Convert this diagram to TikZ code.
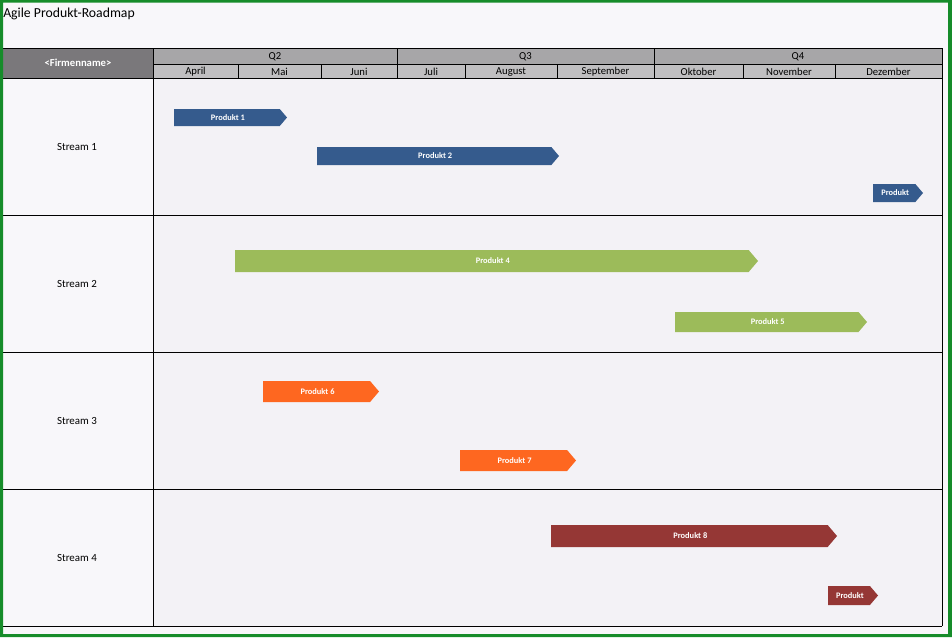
\documentclass[tikz,border=0pt]{standalone}
\usepackage{fontspec}
\setmainfont{Carlito}
\definecolor{pagebg}{RGB}{248,247,250}
\definecolor{chartbg}{RGB}{243,242,246}
\definecolor{frameg}{RGB}{22,140,42}
\definecolor{firmg}{RGB}{122,120,123}
\definecolor{quartg}{RGB}{167,166,168}
\definecolor{monthg}{RGB}{192,191,193}
\definecolor{pblue}{RGB}{53,91,141}
\definecolor{pgreen}{RGB}{156,187,90}
\definecolor{porange}{RGB}{254,103,32}
\definecolor{pred}{RGB}{149,55,53}
\tikzset{
  hdr/.style={font=\fontsize{8}{9}\selectfont, text=black, inner sep=0pt},
  streamlbl/.style={font=\fontsize{8.2}{9}\selectfont, text=black, inner sep=0pt},
  prodlbl/.style={font=\bfseries\fontsize{6.3}{7}\selectfont, text=white, inner sep=0pt},
  grid/.style={line width=0.75pt, draw=black},
}
% \prodbar{name}{x1}{x2}{y1}{y2}{color}{text}
\newcommand{\prodbar}[7]{%
  \pgfmathsetmacro{\hh}{(#5-#4)/2}%
  \pgfmathsetmacro{\bx}{#3-\hh*0.85}%
  \pgfmathsetmacro{\my}{(#4+#5)/2}%
  \fill[#6] (#2,#4) -- (\bx,#4) -- (#3,\my) -- (\bx,#5) -- (#2,#5) -- cycle;
  \node[prodlbl] (#1) at ({(#2+\bx)/2+1},\my) {#7};
}
\begin{document}
\begin{tikzpicture}[x=0.75pt,y=-0.75pt]
\useasboundingbox (0,0) rectangle (952,637);
\fill[pagebg] (0,0) rectangle (952,637);
\fill[chartbg] (153,78) rectangle (942,626);
% title
\node[anchor=west, font=\fontsize{10.3}{12}\selectfont, inner sep=0pt] (title) at (3,13.5) {Agile Produkt-Roadmap};
% header cells
\fill[firmg] (3,48) rectangle (153,78);
\node[font=\bfseries\fontsize{8}{9}\selectfont, text=white, inner sep=0pt] (firm) at (78,63) {<Firmenname>};
\fill[quartg] (153,48) rectangle (942,64);
\fill[monthg] (153,64) rectangle (942,78);
% quarter labels
\node[hdr] (q2) at (275,56.5) {Q2};
\node[hdr] (q3) at (525.5,56.5) {Q3};
\node[hdr] (q4) at (798,56.5) {Q4};
% month labels
\node[hdr] (m4) at (195.5,71.5) {April};
\node[hdr] (m5) at (279.5,71.5) {Mai};
\node[hdr] (m6) at (359,71.5) {Juni};
\node[hdr] (m7) at (431,71.5) {Juli};
\node[hdr] (m8) at (511,71.5) {August};
\node[hdr] (m9) at (605.5,71.5) {September};
\node[hdr] (m10) at (698.5,71.5) {Oktober};
\node[hdr] (m11) at (789,71.5) {November};
\node[hdr] (m12) at (888.5,71.5) {Dezember};
% grid lines
\draw[grid] (3,48) -- (942,48);
\draw[grid] (153,64) -- (942,64);
\draw[grid] (3,78) -- (942,78);
\foreach \yy in {215,352,489,626} \draw[grid] (3,\yy) -- (942,\yy);
\draw[grid] (153,48) -- (153,626);
\draw[grid] (942,48) -- (942,626);
\foreach \xx in {397,654} \draw[grid] (\xx,48) -- (\xx,78);
\foreach \xx in {238,321,465,557,743,835} \draw[grid] (\xx,64) -- (\xx,78);
% stream labels
\node[streamlbl] (s1) at (77,146.5) {Stream 1};
\node[streamlbl] (s2) at (77,283.5) {Stream 2};
\node[streamlbl] (s3) at (77,420.5) {Stream 3};
\node[streamlbl] (s4) at (77,557.5) {Stream 4};
% products
\prodbar{p1}{174}{287}{109}{126}{pblue}{Produkt 1}
\prodbar{p2}{317}{559}{147}{165}{pblue}{Produkt 2}
\prodbar{p3}{873}{923}{184}{202}{pblue}{Produkt}
\prodbar{p4}{235}{758}{250}{272}{pgreen}{Produkt 4}
\prodbar{p5}{675}{867}{312}{332}{pgreen}{Produkt 5}
\prodbar{p6}{263}{379}{381}{402}{porange}{Produkt 6}
\prodbar{p7}{460}{576}{450}{471}{porange}{Produkt 7}
\prodbar{p8}{551}{837}{525}{547}{pred}{Produkt 8}
\prodbar{p9}{828}{878}{586}{605}{pred}{Produkt}
% green frame
\fill[frameg, even odd rule] (0,0) rectangle (952,637) (3,2.5) rectangle (948,634);
\end{tikzpicture}
\end{document}
